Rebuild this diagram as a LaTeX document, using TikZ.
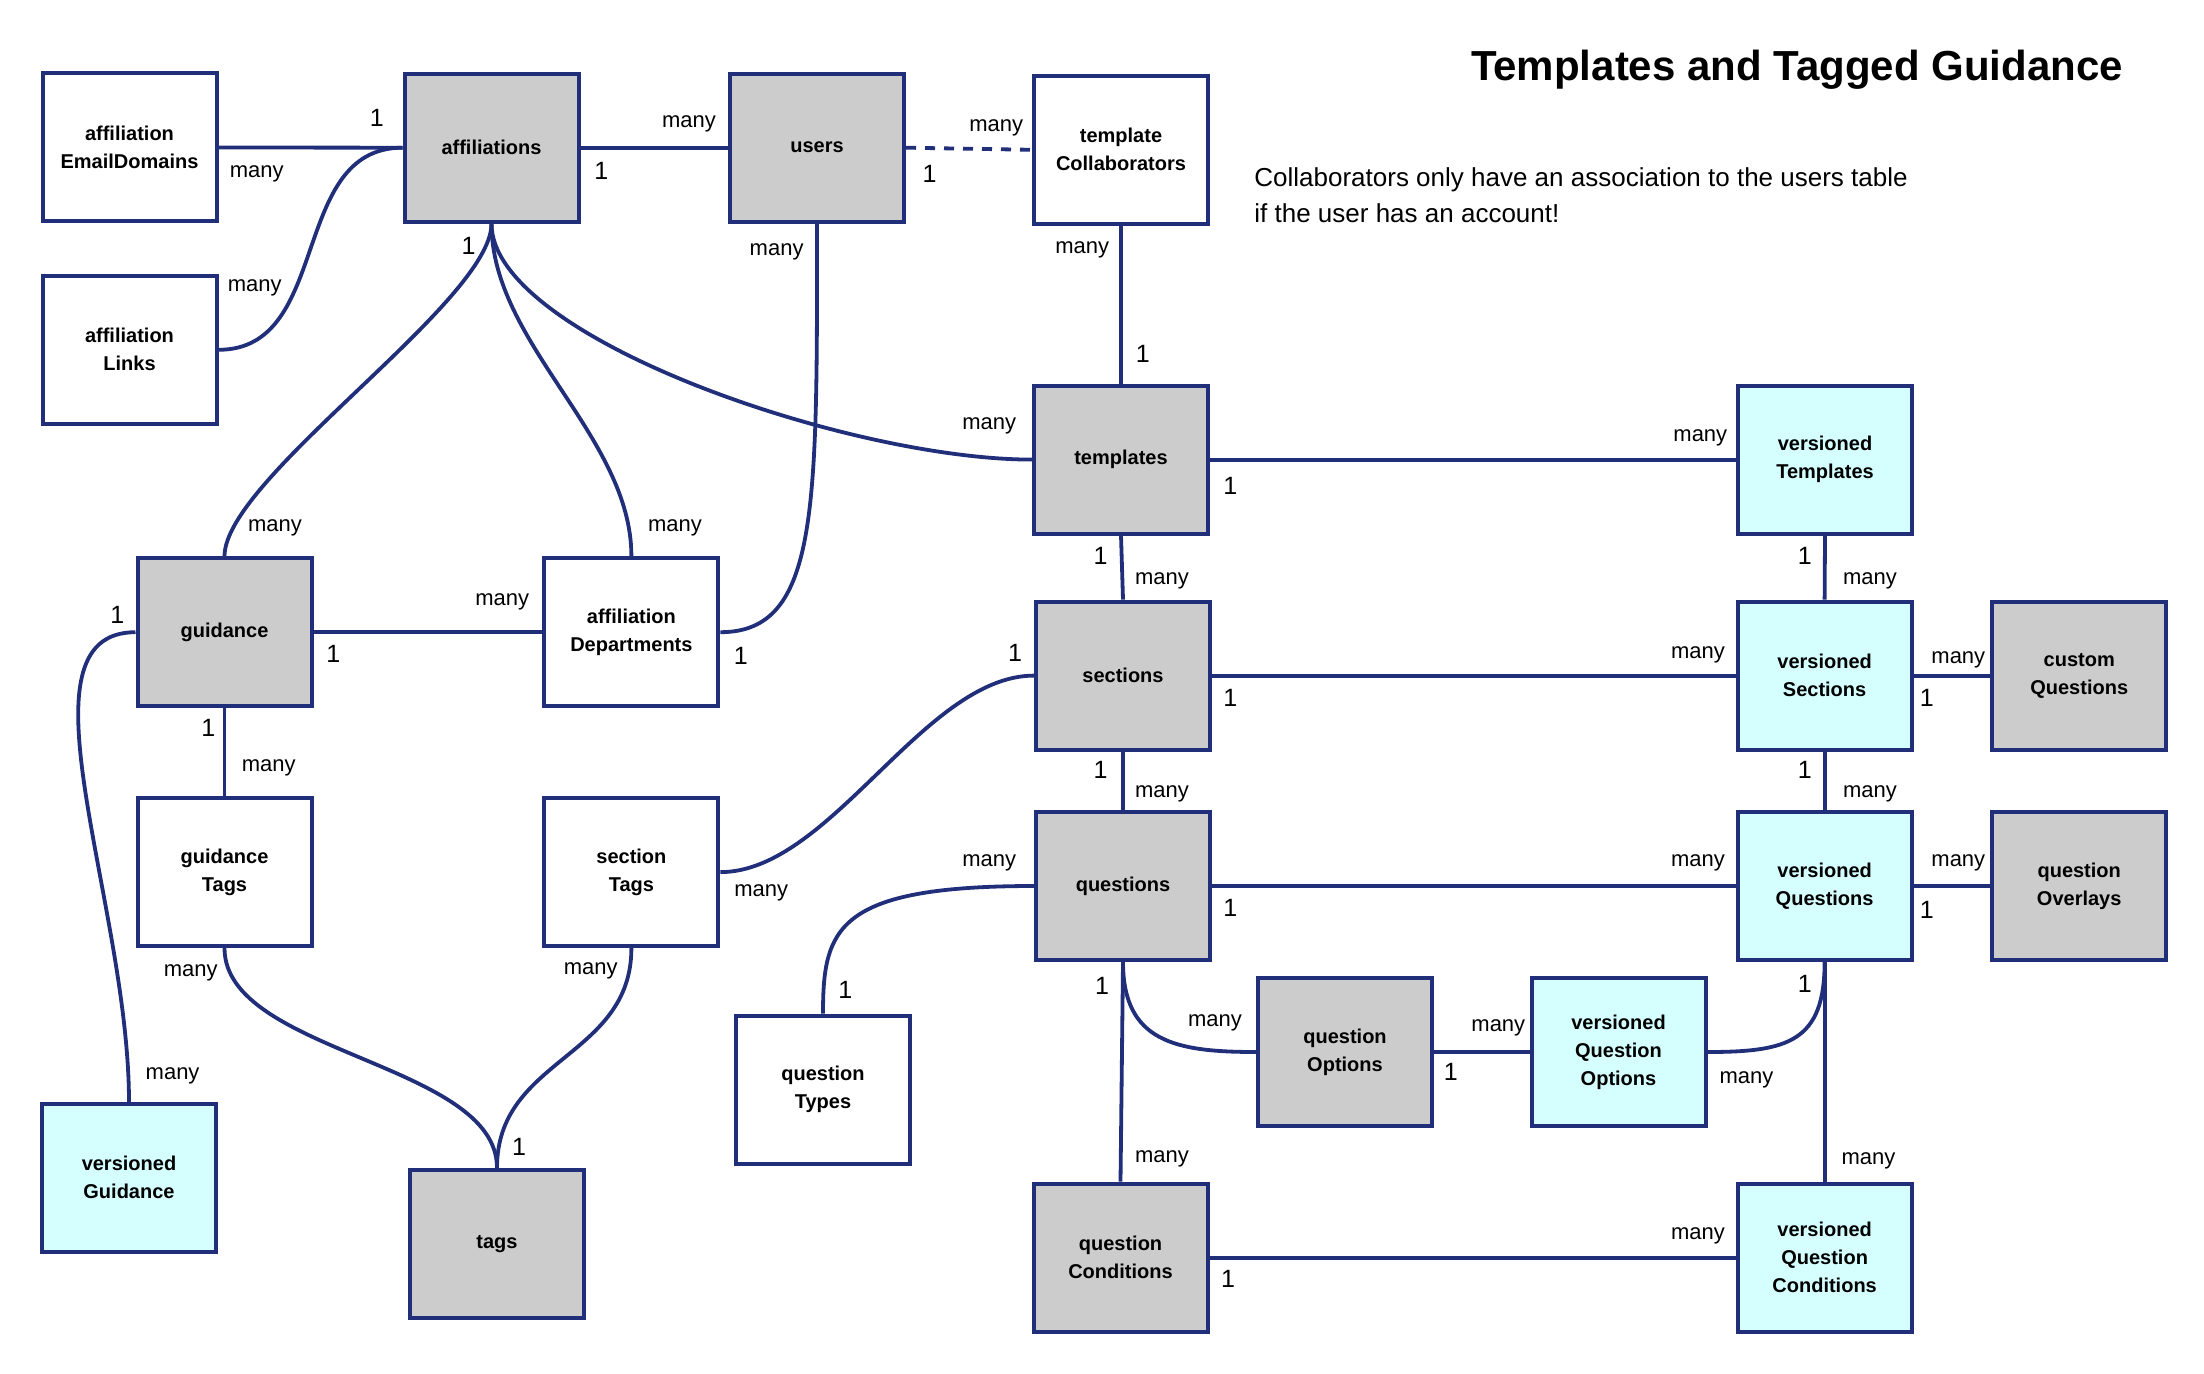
\documentclass[tikz,border=0pt]{standalone}
\usepackage{fontspec}
\setmainfont{Liberation Sans}
\definecolor{navy}{RGB}{33,47,122}
\definecolor{boxgray}{RGB}{204,204,204}
\definecolor{boxcyan}{RGB}{213,255,255}
\tikzset{
  ent/.style={draw=navy, line width=2pt, minimum width=87pt, minimum height=74pt, inner sep=0pt, align=center, font=\bfseries\fontsize{10}{14}\selectfont},
  plainbox/.style={ent, fill=white},
  corebox/.style={ent, fill=boxgray},
  verbox/.style={ent, fill=boxcyan},
  rel/.style={line width=1.9pt, draw=navy},
  card/.style={font=\fontsize{11}{13}\selectfont, inner sep=0pt},
  onecard/.style={font=\fontsize{12.5}{14}\selectfont, inner sep=0pt},
}
\newcommand\cardlbl[4]{\node[card] (#1) at (#2,#3) {#4};}
\newcommand\onelbl[3]{\node[onecard] (#1) at (#2,#3) {1};}
\begin{document}
\begin{tikzpicture}[x=0.5pt,y=-0.5pt]
\useasboundingbox (0,0) rectangle (2204,1374);
\fill[white] (0,0) rectangle (2204,1374);

% entities
\node[plainbox] (aed) at (129.5,147.5) {affiliation\\EmailDomains};
\node[corebox]  (aff) at (491.5,147.7) {affiliations};
\node[corebox]  (usr) at (817,147.7) {users};
\node[plainbox] (tc)  at (1121,149.8) {template\\Collaborators};
\node[plainbox] (al)  at (129.5,349.8) {affiliation\\Links};
\node[corebox]  (tpl) at (1121,459.6) {templates};
\node[verbox]   (vt)  at (1825,459.6) {versioned\\Templates};
\node[corebox]  (gd)  at (224.5,632.2) {guidance};
\node[plainbox] (ad)  at (631.4,632.2) {affiliation\\Departments};
\node[corebox]  (sec) at (1123,675.6) {sections};
\node[verbox]   (vs)  at (1824.6,675.6) {versioned\\Sections};
\node[corebox]  (cq)  at (2079.2,675.6) {custom\\Questions};
\node[plainbox] (gt)  at (224.5,872.1) {guidance\\Tags};
\node[plainbox] (st)  at (631.4,872.1) {section\\Tags};
\node[corebox]  (qs)  at (1123,886) {questions};
\node[verbox]   (vq)  at (1824.6,886) {versioned\\Questions};
\node[corebox]  (qo)  at (2079.2,886) {question\\Overlays};
\node[plainbox] (qt)  at (823,1089.6) {question\\Types};
\node[corebox]  (qop) at (1345,1052) {question\\Options};
\node[verbox]   (vqo) at (1618.5,1052) {versioned\\Question\\Options};
\node[verbox]   (vg)  at (129,1177.8) {versioned\\Guidance};
\node[corebox]  (tg)  at (497,1243.8) {tags};
\node[corebox]  (qc)  at (1120.5,1257.6) {question\\Conditions};
\node[verbox]   (vqc) at (1824.6,1257.6) {versioned\\Question\\Conditions};

% title and note
\node[font=\bfseries\fontsize{21}{25}\selectfont, inner sep=0pt] (title) at (1797,70) {Templates and Tagged Guidance};
\node[font=\fontsize{13}{18}\selectfont, align=left, anchor=west, inner sep=0pt] (note) at (1254,195) {Collaborators only have an association to the users table\\if the user has an account!};

% connectors
\draw[rel] (aed.east) -- (aff.west);
\draw[rel] (al.east) .. controls +(114,0) and +(-114,0) .. (aff.west);
\draw[rel] (aff.east) -- (usr.west);
\draw[rel, dash pattern=on 5pt off 4.5pt] (usr.east) -- (tc.west);
\draw[rel] (tc.south) -- (tpl.north);
\draw[rel] (aff.south) .. controls +(0,113) and +(-184,0) .. (tpl.west);
\draw[rel] (aff.south) .. controls +(0,78) and +(0,-78) .. (gd.north);
\draw[rel] (aff.south) .. controls +(0,120) and +(0,-120) .. (ad.north);
\draw[rel] (usr.south) .. controls +(0,283) and +(99,0) .. (ad.east);
\draw[rel] (gd.east) -- (ad.west);
\draw[rel] (tpl.east) -- (vt.west);
\draw[rel] (tpl.south) -- (sec.north);
\draw[rel] (vt.south) -- (vs.north);
\draw[rel] (sec.east) -- (vs.west);
\draw[rel] (vs.east) -- (cq.west);
\draw[rel] (sec.west) .. controls +(-110,0) and +(110,0) .. (st.east);
\draw[rel] (sec.south) -- (qs.north);
\draw[rel] (vs.south) -- (vq.north);
\draw[rel] (qs.east) -- (vq.west);
\draw[rel] (vq.east) -- (qo.west);
\draw[rel] (qs.west) .. controls +(-198,0) and +(0,-85) .. (qt.north);
\draw[rel] (qs.south) .. controls +(0,80) and +(-80,0) .. (qop.west);
\draw[rel] (qs.south) -- (qc.north);
\draw[rel] (qop.east) -- (vqo.west);
\draw[rel] (vqo.east) .. controls +(80,0) and +(0,80) .. (vq.south);
\draw[rel] (vq.south) -- (vqc.north);
\draw[rel] (qc.east) -- (vqc.west);
\draw[rel] (gd.south) -- (gt.north);
\draw[rel] (gd.west) .. controls +(-125,0) and +(0,-200) .. (vg.north);
\draw[rel] (gt.south) .. controls +(0,105) and +(0,-105) .. (tg.north);
\draw[rel] (st.south) .. controls +(0,110) and +(0,-110) .. (tg.north);

% cardinality labels
\onelbl{c1}{376.7}{118.3}
\cardlbl{c2}{256.8}{174.1}{many}
\cardlbl{c3}{688.9}{124.1}{many}
\onelbl{c4}{601.2}{170.5}
\cardlbl{c5}{996.2}{128.1}{many}
\onelbl{c6}{929.5}{174.1}
\onelbl{c7}{468.6}{246.4}
\cardlbl{c8}{776.6}{252.2}{many}
\cardlbl{c9}{1082.2}{250}{many}
\cardlbl{c10}{254.7}{288}{many}
\cardlbl{c11}{989.2}{426.3}{many}
\cardlbl{c12}{275}{527.7}{many}
\cardlbl{c13}{674.9}{527.7}{many}
\onelbl{c14}{117.2}{614.7}
\onelbl{c15}{333.2}{654}
\cardlbl{c16}{502.3}{601.8}{many}
\onelbl{c17}{740.8}{656.3}
\onelbl{c18}{1015.1}{652.7}
\onelbl{c19}{1142.8}{354}
\cardlbl{c20}{1700.3}{437.5}{many}
\onelbl{c21}{1230.4}{485.7}
\onelbl{c22}{1100.6}{556.3}
\cardlbl{c23}{1162}{581.3}{many}
\onelbl{c24}{1804.7}{556.3}
\cardlbl{c25}{1870}{581.3}{many}
\cardlbl{c26}{1698}{655}{many}
\cardlbl{c27}{1958.3}{659.4}{many}
\onelbl{c28}{1230.4}{697.6}
\onelbl{c29}{1926.8}{697.6}
\onelbl{c30}{1100.6}{770}
\cardlbl{c31}{1162}{793.6}{many}
\onelbl{c32}{1804.7}{770}
\cardlbl{c33}{1870}{793.6}{many}
\cardlbl{c34}{1698}{863.3}{many}
\onelbl{c35}{1230.4}{907.6}
\cardlbl{c36}{1958.3}{863.3}{many}
\onelbl{c37}{1926.8}{910}
\onelbl{c38}{1102.1}{985.7}
\cardlbl{c39}{1215}{1023}{many}
\cardlbl{c40}{1498.3}{1027.7}{many}
\onelbl{c41}{1450.7}{1071.6}
\onelbl{c42}{1804.7}{983.8}
\cardlbl{c43}{1746.4}{1079.4}{many}
\cardlbl{c44}{1162}{1159.3}{many}
\cardlbl{c45}{1868.4}{1161.1}{many}
\cardlbl{c46}{1698}{1235.5}{many}
\onelbl{c47}{1228}{1279.3}
\onelbl{c48}{208.4}{727.6}
\cardlbl{c49}{268.7}{767.7}{many}
\cardlbl{c50}{761.2}{893.3}{many}
\cardlbl{c51}{989.2}{863.3}{many}
\cardlbl{c52}{190.8}{973.2}{many}
\cardlbl{c53}{590.7}{970.9}{many}
\onelbl{c54}{845.4}{990.3}
\cardlbl{c55}{172.6}{1075.7}{many}
\onelbl{c56}{519.1}{1146.4}
\end{tikzpicture}
\end{document}
